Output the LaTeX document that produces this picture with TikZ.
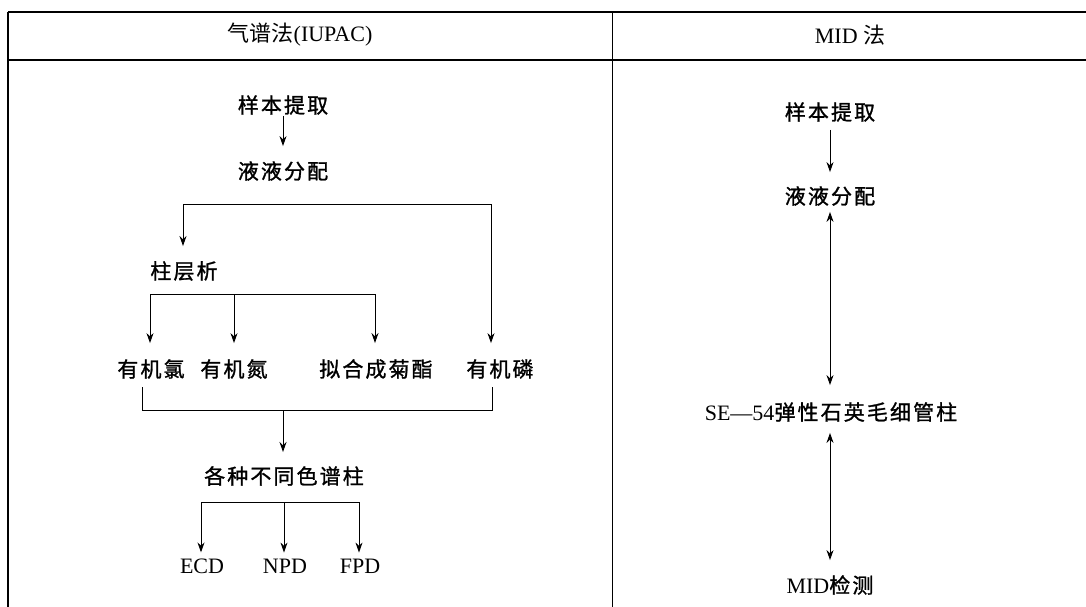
\documentclass[tikz,border=0pt]{standalone}
\usepackage{fontspec}
\setmainfont{Liberation Serif}
\newfontfamily\cjk{Noto Sans CJK SC}
\newfontfamily\cjks{Noto Sans CJK SC}[LetterSpace=10, FakeBold=1.2]
\usetikzlibrary{arrows.meta}
\begin{document}
\begin{tikzpicture}[x=1pt,y=-1pt,
  lbl/.style={inner sep=0pt, font=\cjks\fontsize{21}{21}\selectfont},
  hdr/.style={inner sep=0pt, font=\fontsize{22}{22}\selectfont},
  lat/.style={inner sep=0pt, font=\fontsize{22}{22}\selectfont},
  arr/.style={line width=1pt, -{Stealth[length=10pt,width=7pt]}},
  darr/.style={line width=1pt, {Stealth[length=10pt,width=7pt]}-{Stealth[length=10pt,width=7pt]}},
  ln/.style={line width=1pt},
  frame/.style={line width=1.6pt}]
\useasboundingbox (0,0) rectangle (1086,607);
% table frame
\coordinate (tl) at (8,12);
\coordinate (tr) at (1086,12);
\coordinate (bl) at (8,607);
\coordinate (hl) at (8,60);
\coordinate (hr) at (1086,60);
\coordinate (dt) at (612,12);
\coordinate (db) at (612,607);
\draw[line width=2pt] (tl) -- (tr);
\draw[frame] (tl) -- (bl);
\draw[frame] (hl) -- (hr);
\draw[ln] (dt) -- (db);
% headers
\node[hdr] (h1) at (300,35) {{\cjk 气谱法}(IUPAC)};
\node[hdr] (h2) at (850,35) {MID {\cjk 法}};
% left column
\node[lbl] (s1) at (283,105) {样本提取};
\node[lbl] (l1) at (283,171) {液液分配};
\node[lbl] (z) at (184,271) {柱层析};
\node[lbl] (o1) at (151,369) {有机氯};
\node[lbl] (o2) at (234,369) {有机氮};
\node[lbl] (o3) at (376,369) {拟合成菊酯};
\node[lbl] (o4) at (500,369) {有机磷};
\node[lbl] (g) at (284,476) {各种不同色谱柱};
\node[lat] (e1) at (202,566) {ECD};
\node[lat] (e2) at (285,566) {NPD};
\node[lat] (e3) at (360,566) {FPD};
\draw[arr, shorten <=1pt, shorten >=15pt] (s1.south) -- (s1.south |- l1.north);
% bracket 1
\coordinate (b1l) at (183,204);
\coordinate (b1r) at (491,204);
\draw[ln] (b1l) -- (b1r);
\draw[arr, shorten >=15pt] (b1l) -- (b1l |- z.north);
\draw[arr, shorten >=16pt] (b1r) -- (b1r |- o4.north);
% bracket 2
\coordinate (b2l) at (150,294);
\coordinate (b2m) at (234,294);
\coordinate (b2r) at (375,294);
\draw[ln] (b2l) -- (b2r);
\draw[arr, shorten >=16pt] (b2l) -- (b2l |- o1.north);
\draw[arr, shorten >=16pt] (b2m) -- (b2m |- o2.north);
\draw[arr, shorten >=16pt] (b2r) -- (b2r |- o3.north);
% bracket 3
\coordinate (c3a) at (142,387);
\coordinate (c3b) at (142,410);
\coordinate (c3m) at (283,410);
\coordinate (c3c) at (492,410);
\coordinate (c3d) at (492,387);
\draw[ln] (c3a) -- (c3b) -- (c3c) -- (c3d);
\draw[arr, shorten >=14pt] (c3m) -- (c3m |- g.north);
% bracket 4
\coordinate (d4l) at (201,502);
\coordinate (d4m) at (284,502);
\coordinate (d4r) at (359,502);
\draw[ln] (d4l) -- (d4r);
\draw[arr, shorten >=6pt] (d4l) -- (d4l |- e1.north);
\draw[arr, shorten >=6pt] (d4m) -- (d4m |- e2.north);
\draw[arr, shorten >=6pt] (d4r) -- (d4r |- e3.north);
% right column
\node[lbl] (r1) at (830,112) {样本提取};
\node[lbl] (r2) at (830,196) {液液分配};
\node[lbl] (r3) at (831,412) {{\rmfamily\fontsize{22}{22}\selectfont SE—54}弹性石英毛细管柱};
\node[lbl] (r4) at (830,585) {{\rmfamily\fontsize{22}{22}\selectfont MID}检测};
\coordinate (rx) at (830,0);
\draw[arr, shorten <=8pt, shorten >=14pt] (r1.south -| rx) -- (r2.north -| rx);
\draw[darr, shorten <=6pt, shorten >=17pt] (r2.south -| rx) -- (r3.north -| rx);
\draw[darr, shorten <=11pt, shorten >=15pt] (r3.south -| rx) -- (r4.north -| rx);
\end{tikzpicture}
\end{document}
